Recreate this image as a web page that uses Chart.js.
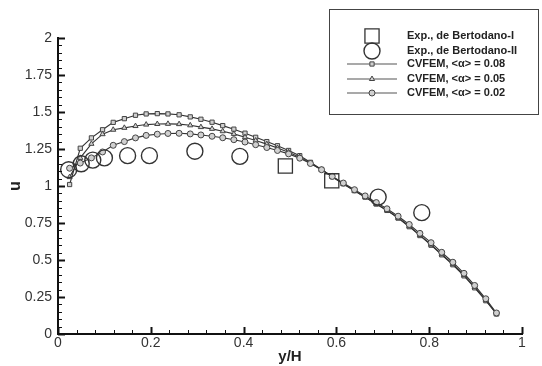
<!DOCTYPE html>
<html>
<head>
<meta charset="utf-8">
<script src="https://cdn.jsdelivr.net/npm/chart.js@4"></script>
<style>
  html, body { margin: 0; padding: 0; background: #fff; }
  #wrap { width: 542px; height: 366px; }
</style>
</head>
<body>
<div id="wrap"><canvas id="myChart" width="542" height="366"></canvas></div>
<script>
// y/H positions of the CVFEM nodes
const nodeX = [0.025,0.048,0.072,0.096,0.119,0.143,0.167,0.190,0.214,0.237,
               0.261,0.285,0.308,0.332,0.355,0.379,0.403,0.426,0.450,0.473,
               0.497,0.521,0.544,0.568,0.591,0.615,0.639,0.662,0.686,0.709,
               0.733,0.757,0.780,0.804,0.827,0.851,0.875,0.898,0.922,0.945]

const cvfem008 = [1.01,1.255,1.325,1.38,1.43,1.455,1.478,1.487,1.489,1.487,
                  1.481,1.467,1.451,1.431,1.408,1.384,1.357,1.329,1.300,1.272,
                  1.240,1.205,1.160,1.112,1.063,1.015,0.968,0.925,0.878,0.835,
                  0.783,0.725,0.665,0.600,0.535,0.468,0.393,0.312,0.225,0.135]

const cvfem005 = [1.06,1.19,1.285,1.35,1.38,1.393,1.405,1.415,1.419,1.42,
                  1.418,1.41,1.398,1.386,1.37,1.352,1.33,1.307,1.283,1.257,
                  1.228,1.195,1.155,1.11,1.062,1.013,0.967,0.924,0.878,0.836,
                  0.785,0.728,0.668,0.604,0.539,0.472,0.398,0.317,0.229,0.137]

const cvfem002 = [1.12,1.155,1.19,1.23,1.275,1.30,1.325,1.342,1.35,1.355,
                  1.356,1.352,1.345,1.336,1.326,1.313,1.297,1.279,1.26,1.24,
                  1.217,1.188,1.152,1.11,1.065,1.02,0.975,0.933,0.888,0.846,
                  0.796,0.74,0.68,0.617,0.552,0.485,0.41,0.328,0.238,0.142]

const expIX = [0.49, 0.59]
const expIU = [1.135, 1.035]

const expIIX = [0.023,0.05,0.075,0.10,0.15,0.197,0.295,0.392,0.69,0.784]
const expIIU = [1.11,1.15,1.175,1.19,1.205,1.205,1.235,1.20,0.925,0.82]

const xTicks = [0, 0.2, 0.4, 0.6, 0.8, 1]
const xTickLabels = ['0', '0.2', '0.4', '0.6', '0.8', '1']
const yTicks = [0, 0.25, 0.5, 0.75, 1, 1.25, 1.5, 1.75, 2]
const yTickLabels = ['0', '0.25', '0.5', '0.75', '1', '1.25', '1.5', '1.75', '2']

const legendLabels = ['Exp., de Bertodano-I', 'Exp., de Bertodano-II',
                      'CVFEM, <\u03b1> = 0.08', 'CVFEM, <\u03b1> = 0.05', 'CVFEM, <\u03b1> = 0.02']

const toPoints = (xs, ys) => xs.map((x, i) => ({x: x, y: ys[i]}))

const lineSet = (label, ys, style) => ({
    label: label,
    data: toPoints(nodeX, ys),
    showLine: true,
    borderColor: '#333',
    borderWidth: 1.1,
    pointStyle: style,
    pointRadius: 3,
    pointBorderWidth: 1,
    pointBorderColor: '#444',
    pointBackgroundColor: '#d0d0d0'
})

// inward major/minor ticks, like the original plot
const innerTicks = {
    id: 'innerTicks',
    afterDatasetsDraw(chart) {
        const ctx = chart.ctx
        const xs = chart.scales.x
        const ys = chart.scales.y
        const area = chart.chartArea
        ctx.save()
        ctx.strokeStyle = '#111'
        for (let i = 0; i <= 25; i++) {
            const px = Math.round(xs.getPixelForValue(i * 0.04)) + 0.5
            const major = i % 5 == 0
            ctx.lineWidth = major ? 2 : 1
            ctx.beginPath()
            ctx.moveTo(px, area.bottom)
            ctx.lineTo(px, area.bottom - (major ? 7 : 4))
            ctx.stroke()
        }
        for (let i = 0; i <= 40; i++) {
            const py = Math.round(ys.getPixelForValue(i * 0.05)) + 0.5
            const major = i % 5 == 0
            ctx.lineWidth = major ? 2 : 1
            ctx.beginPath()
            ctx.moveTo(area.left, py)
            ctx.lineTo(area.left + (major ? 7 : 4), py)
            ctx.stroke()
        }
        ctx.restore()
    }
}

// legend box in the top right corner
const boxLegend = {
    id: 'boxLegend',
    afterDraw(chart) {
        const ctx = chart.ctx
        const sets = chart.data.datasets
        const rows = [36, 51, 64, 79, 93]
        const symX = 372
        ctx.save()
        ctx.strokeStyle = '#444'
        ctx.lineWidth = 1
        ctx.strokeRect(329.5, 9.5, 209, 105)
        for (let i = 0; i < 5; i++) {
            const ds = sets[i]
            const y = rows[i]
            if (ds.showLine) {
                ctx.strokeStyle = '#555'
                ctx.lineWidth = 1.2
                ctx.beginPath()
                ctx.moveTo(347, y)
                ctx.lineTo(397, y)
                ctx.stroke()
            }
            ctx.strokeStyle = ds.pointBorderColor
            ctx.fillStyle = ds.pointBackgroundColor
            ctx.lineWidth = ds.pointBorderWidth
            Chart.helpers.drawPoint(ctx, {
                pointStyle: ds.pointStyle,
                radius: ds.pointRadius,
                borderWidth: ds.pointBorderWidth,
                rotation: 0
            }, symX, y)
            ctx.fillStyle = '#222'
            ctx.font = 'bold 11px "Liberation Sans", Arial, sans-serif'
            ctx.textBaseline = 'middle'
            ctx.fillText(legendLabels[i], 407, y)
        }
        ctx.restore()
    }
}

new Chart(document.getElementById('myChart'), {
    type: 'scatter',
    data: {
        datasets: [
            {
                label: legendLabels[0],
                data: toPoints(expIX, expIU),
                pointStyle: 'rect',
                pointRadius: 10,
                pointBorderWidth: 1.3,
                pointBorderColor: '#333',
                pointBackgroundColor: 'rgba(255,255,255,0)',
                order: 0
            },
            {
                label: legendLabels[1],
                data: toPoints(expIIX, expIIU),
                pointStyle: 'circle',
                pointRadius: 8,
                pointBorderWidth: 1.4,
                pointBorderColor: '#333',
                pointBackgroundColor: 'rgba(255,255,255,0)',
                order: 0
            },
            Object.assign(lineSet(legendLabels[2], cvfem008, 'rect'), {order: 3}),
            Object.assign(lineSet(legendLabels[3], cvfem005, 'triangle'), {order: 2}),
            Object.assign(lineSet(legendLabels[4], cvfem002, 'circle'), {order: 1})
        ]
    },
    options: {
        responsive: false,
        animation: false,
        layout: { padding: { top: 38, right: 20, left: 0, bottom: 0 } },
        scales: {
            x: {
                type: 'linear',
                min: 0,
                max: 1,
                afterBuildTicks: (scale) => { scale.ticks = xTicks.map(v => ({value: v})) },
                afterFit: (scale) => { scale.height = 32 },
                ticks: {
                    color: '#333',
                    padding: 1,
                    font: { family: '"Liberation Sans", Arial, sans-serif', size: 14 },
                    maxRotation: 0,
                    callback: (value) => xTickLabels[xTicks.indexOf(value)]
                },
                grid: { display: false, drawTicks: false },
                border: { display: true, color: '#111', width: 2 },
                title: {
                    display: true,
                    text: 'y/H',
                    color: '#222',
                    padding: { top: 0, bottom: 0 },
                    font: { family: '"Liberation Sans", Arial, sans-serif', size: 15, weight: 'bold' }
                }
            },
            y: {
                type: 'linear',
                min: 0,
                max: 2,
                afterBuildTicks: (scale) => { scale.ticks = yTicks.map(v => ({value: v})) },
                afterFit: (scale) => { scale.width = 58 },
                ticks: {
                    color: '#333',
                    padding: 6,
                    font: { family: '"Liberation Sans", Arial, sans-serif', size: 14 },
                    callback: (value) => yTickLabels[yTicks.indexOf(value)]
                },
                grid: { display: false, drawTicks: false },
                border: { display: true, color: '#111', width: 2 },
                title: {
                    display: true,
                    text: 'u',
                    color: '#222',
                    padding: { top: 6, bottom: 0 },
                    font: { family: '"Liberation Sans", Arial, sans-serif', size: 16, weight: 'bold' }
                }
            }
        },
        plugins: {
            legend: { display: false },
            tooltip: { enabled: false }
        }
    },
    plugins: [innerTicks, boxLegend]
})
</script>
</body>
</html>
